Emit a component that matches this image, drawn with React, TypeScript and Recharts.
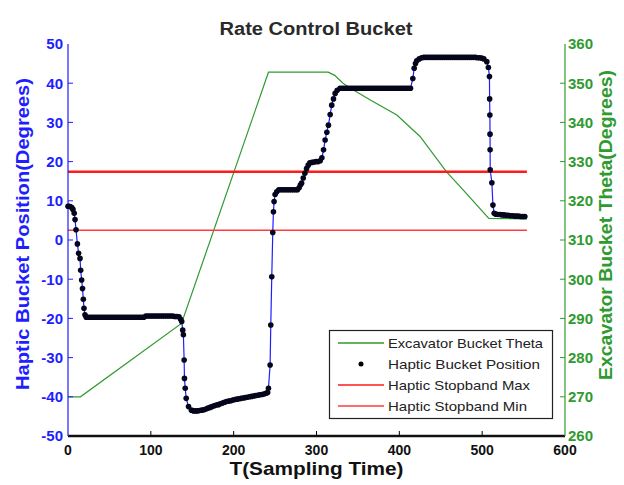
import React from 'react';
import { ComposedChart, Line, XAxis, YAxis } from 'recharts';

const FONT = '"Liberation Sans", Arial, sans-serif';

const timeTicks = [0, 100, 200, 300, 400, 500, 600];
const hapticTicks = [-50, -40, -30, -20, -10, 0, 10, 20, 30, 40, 50];
const thetaTicks = [260, 270, 280, 290, 300, 310, 320, 330, 340, 350, 360];

const titleText = 'Rate Control Bucket';
const xLabelText = 'T(Sampling Time)';
const leftLabelText = 'Haptic Bucket Position(Degrees)';
const rightLabelText = 'Excavator Bucket Theta(Degrees)';
const legendNames = ['Excavator Bucket Theta', 'Haptic Bucket Position', 'Haptic Stopband Max', 'Haptic Stopband Min'];

// Excavator bucket theta (right axis, degrees)
const thetaTime = [0, 15, 137, 242, 314, 322, 332, 341, 365, 397, 425, 457, 477, 508, 554];
const thetaDeg = [270, 270, 288.7, 352.8, 352.8, 352, 350, 348.7, 345.7, 341.9, 336.4, 327.4, 322.8, 315.5, 315.4];

// Stopband lines (left axis)
const stopbandTime = [0, 554];
const stopbandMax = [17.4, 17.4];
const stopbandMin = [2.5, 2.5];

// Haptic bucket position (left axis)
const hapticTime = [
  0, 1.5, 3, 4.5, 6,
  7.5, 8.5, 9.7, 11.3, 12.8, 14.5, 15.3, 16.5, 17.5, 18.5, 19.3, 20.5, 22,
  24, 26.5, 29, 31.5, 34, 36.5, 39, 41.5, 44, 46.5, 49, 51.5, 54, 56.5, 59, 61.5, 64, 66.5, 69, 71.5, 74, 76.5, 79, 81.5, 84, 86.5, 89, 91.5,
  94, 96.5, 99, 101.5, 104, 106.5, 109, 111.5, 114, 116.5, 119, 121.5, 124, 126.5, 129, 131.5,
  134, 136,
  137.3, 138.5, 139.3, 140.2, 140.6, 141.5, 142.7, 145.5, 149,
  151.5, 154, 156.5, 159, 161.5, 164, 166.5, 169, 171.5, 174, 176.5, 179, 181.5, 184, 186.5, 189, 191.5, 194, 196.5, 199, 201.5, 204, 206.5, 209, 211.5, 214, 216.5, 219, 221.5, 224, 226.5, 229, 231.5, 234, 236.5, 239,
  241, 242, 244, 244.8, 246, 247.2, 248, 248.8, 250, 252,
  254.5, 257, 259.5, 262, 264.5, 267, 269.5, 272, 274.5, 277,
  279, 280.5, 282, 284, 286, 288, 290, 292,
  294.5, 297, 299.5, 302, 304.5,
  306.5, 308.5, 310.4, 312.5, 314.4, 316.5, 318.4, 320.5, 322.5, 325, 328.5,
  331, 333.5, 336, 338.5, 341, 343.5, 346, 348.5, 351, 353.5, 356, 358.5, 361, 363.5, 366, 368.5, 371, 373.5, 376, 378.5, 381, 383.5, 386, 388.5, 391, 393.5, 396, 398.5, 401, 403.5, 406, 408.5, 411, 413.5,
  416.3, 417.9, 419.5, 421, 424, 427, 429.5,
  432, 434.5, 437, 439.5, 442, 444.5, 447, 449.5, 452, 454.5, 457, 459.5, 462, 464.5, 467, 469.5, 472, 474.5, 477, 479.5, 482, 484.5, 487, 489.5, 492, 494.5, 497, 499.5,
  502, 505.6, 507.5, 508.8, 509, 509.3, 509.5, 509.6, 509.7, 511.7, 513, 514.5, 516.5,
  519, 521.5, 524, 526.5, 529, 531.5, 534, 536.5, 539, 541.5, 544, 546.5, 549, 551.5,
];
const hapticDeg = [
  8.6, 8.6, 8.5, 8.3, 7.8,
  6.8, 5.2, 2.6, -1, -3.4, -4.7, -7.7, -10.2, -12.4, -15.1, -17.4, -19.1, -19.7,
  -19.7, -19.7, -19.7, -19.7, -19.7, -19.7, -19.7, -19.7, -19.7, -19.7, -19.7, -19.7, -19.7, -19.7, -19.7, -19.7, -19.7, -19.7, -19.7, -19.7, -19.7, -19.7, -19.7, -19.7, -19.7, -19.7, -19.7, -19.7,
  -19.4, -19.4, -19.4, -19.4, -19.4, -19.4, -19.4, -19.4, -19.4, -19.4, -19.4, -19.4, -19.4, -19.4, -19.5, -19.5,
  -19.6, -20.2,
  -20.8, -23, -24.2, -30.6, -35.3, -37.8, -40.4, -42.5, -43.4,
  -43.6, -43.6, -43.6, -43.5, -43.4, -43.3, -43.1, -42.9, -42.7, -42.5, -42.3, -42.1, -42.0, -41.8, -41.6, -41.4, -41.2, -41.1, -41.0, -40.8, -40.7, -40.6, -40.5, -40.4, -40.3, -40.2, -40.1, -40.0, -39.9, -39.8, -39.7, -39.6, -39.5, -39.4, -39.3, -39.1,
  -38.9, -37.8, -31.9, -21.7, -9.4, 1.9, 7.2, 9.8, 11.6, 12.3,
  12.8, 12.8, 12.8, 12.8, 12.8, 12.8, 12.8, 12.8, 12.8, 12.8,
  13.3, 14, 14.5, 15.8, 17, 18.2, 19.1, 19.7,
  19.8, 19.9, 20, 20, 20.2,
  21, 23, 25.5, 27.5, 29.3, 32, 34.4, 36, 37.4, 38.2, 38.7,
  38.7, 38.7, 38.7, 38.7, 38.7, 38.7, 38.7, 38.7, 38.7, 38.7, 38.7, 38.7, 38.7, 38.7, 38.7, 38.7, 38.7, 38.7, 38.7, 38.7, 38.7, 38.7, 38.7, 38.7, 38.7, 38.7, 38.7, 38.7, 38.7, 38.7, 38.7, 38.7, 38.7, 38.7,
  41.2, 43.8, 45, 45.7, 46.2, 46.5, 46.6,
  46.6, 46.6, 46.6, 46.6, 46.6, 46.6, 46.6, 46.6, 46.6, 46.6, 46.6, 46.6, 46.6, 46.6, 46.6, 46.6, 46.6, 46.6, 46.6, 46.6, 46.6, 46.6, 46.6, 46.6, 46.6, 46.5, 46.5, 46.4,
  46.2, 45.5, 44, 41.7, 36, 31.9, 27, 23, 17.9, 14.6, 8.9, 6.8, 6.6,
  6.5, 6.5, 6.4, 6.4, 6.3, 6.3, 6.2, 6.2, 6.1, 6.1, 6.1, 6.0, 6.0, 6.0,
];

const zip = (ts: number[], vs: number[]) => {
  const n = Math.min(ts.length, vs.length);
  const out: { t: number; v: number }[] = [];
  for (let i = 0; i < n; i++) out.push({ t: ts[i], v: vs[i] });
  return out;
};

const thetaData = zip(thetaTime, thetaDeg);
const maxData = zip(stopbandTime, stopbandMax);
const minData = zip(stopbandTime, stopbandMin);
const hapticData = zip(hapticTime, hapticDeg);

const BLUE = '#1e1eff';
const GREEN = '#2f9a2f';
const RED = '#ff1a1a';

const BottomTick = (props: any) => {
  const { x, y, payload } = props;
  const v = payload.value;
  const inner = v !== timeTicks[0] && v !== timeTicks[timeTicks.length - 1];
  return (
    <g>
      {inner && <line x1={x} y1={y} x2={x} y2={y - 5} stroke="#000" strokeWidth={1} />}
      <text x={x} y={y + 19} textAnchor="middle" fontFamily={FONT} fontWeight="bold" fontSize={14} fill="#111">
        {v}
      </text>
    </g>
  );
};

const TopTick = (props: any) => {
  const { x, y, payload } = props;
  const v = payload.value;
  const inner = v !== timeTicks[0] && v !== timeTicks[timeTicks.length - 1];
  return inner ? <line x1={x} y1={y} x2={x} y2={y + 5} stroke="#000" strokeWidth={1} /> : <g />;
};

const LeftTick = (props: any) => {
  const { x, y, payload } = props;
  const v = payload.value;
  const inner = v !== hapticTicks[0] && v !== hapticTicks[hapticTicks.length - 1];
  return (
    <g>
      {inner && <line x1={x} y1={y} x2={x + 5} y2={y} stroke={BLUE} strokeWidth={1} />}
      <text x={x - 5} y={y} dy="0.36em" textAnchor="end" fontFamily={FONT} fontWeight="bold" fontSize={15} fill={BLUE}>
        {v}
      </text>
    </g>
  );
};

const RightTick = (props: any) => {
  const { x, y, payload } = props;
  const v = payload.value;
  const inner = v !== thetaTicks[0] && v !== thetaTicks[thetaTicks.length - 1];
  return (
    <g>
      {inner && <line x1={x} y1={y} x2={x - 5} y2={y} stroke={GREEN} strokeWidth={1} />}
      <text x={x + 3} y={y} dy="0.36em" textAnchor="start" fontFamily={FONT} fontWeight="bold" fontSize={15} fill={GREEN}>
        {v}
      </text>
    </g>
  );
};

const BottomLabel = (props: any) => {
  const vb = props.viewBox || { x: 68, y: 436, width: 497, height: 49 };
  const cx = vb.x + vb.width / 2;
  return (
    <text x={cx} y={vb.y + 39} textAnchor="middle" fontFamily={FONT} fontWeight="bold" fontSize={19} fill="#111"
      textLength={174} lengthAdjust="spacingAndGlyphs">
      {xLabelText}
    </text>
  );
};

const LeftLabel = (props: any) => {
  const vb = props.viewBox || { x: 0, y: 44, width: 68, height: 392 };
  const cx = vb.x + 23;
  const cy = vb.y + vb.height / 2 - 6;
  return (
    <text x={cx} y={cy} dy="0.36em" transform={`rotate(-90 ${cx} ${cy})`} textAnchor="middle" fontFamily={FONT}
      fontWeight="bold" fontSize={18} fill={BLUE} textLength={312} lengthAdjust="spacingAndGlyphs">
      {leftLabelText}
    </text>
  );
};

const RightLabel = (props: any) => {
  const vb = props.viewBox || { x: 565, y: 44, width: 59, height: 392 };
  const cx = vb.x + 41;
  const cy = vb.y + vb.height / 2 - 15;
  return (
    <text x={cx} y={cy} dy="0.36em" transform={`rotate(-90 ${cx} ${cy})`} textAnchor="middle" fontFamily={FONT}
      fontWeight="bold" fontSize={18} fill={GREEN} textLength={310} lengthAdjust="spacingAndGlyphs">
      {rightLabelText}
    </text>
  );
};

const legendWidths = [155, 152, 142, 139];
const legendRows = [343, 364, 385, 406];

const Overlay = () => (
  <svg width={624} height={485} style={{ position: 'absolute', left: 0, top: 0, pointerEvents: 'none' }}>
    <text x={316} y={35} textAnchor="middle" fontFamily={FONT} fontWeight="bold" fontSize={18} fill="#2a2a2a"
      textLength={193} lengthAdjust="spacingAndGlyphs">
      {titleText}
    </text>
    <rect x={329.5} y={330.5} width={223} height={88} fill="#fff" stroke="#222" strokeWidth={1.2} />
    <line x1={338} y1={legendRows[0]} x2={384} y2={legendRows[0]} stroke={GREEN} strokeWidth={1.5} />
    <circle cx={361} cy={legendRows[1]} r={2.5} fill="#000" />
    <line x1={338} y1={legendRows[2]} x2={384} y2={legendRows[2]} stroke={RED} strokeWidth={1.5} />
    <line x1={338} y1={legendRows[3]} x2={384} y2={legendRows[3]} stroke="#ff3b3b" strokeWidth={1.5} />
    {legendNames.map((n, i) => (
      <text key={n} x={388} y={legendRows[i]} dy="0.36em" fontFamily={FONT} fontSize={13} fill="#222"
        textLength={legendWidths[i]} lengthAdjust="spacingAndGlyphs">
        {n}
      </text>
    ))}
  </svg>
);

export default function App() {
  return (
    <div style={{ position: 'absolute', left: 0, top: 0, width: 624, height: 485, background: '#fff' }}>
      <ComposedChart width={624} height={485} margin={{ top: 44, right: 0, bottom: 0, left: 0 }}>
        <XAxis xAxisId="b" type="number" dataKey="t" domain={[0, 600]} ticks={timeTicks} height={49}
          axisLine={{ stroke: '#111', strokeWidth: 2.5 }} tickLine={false} tickSize={0} tickMargin={0}
          tick={(p: any) => <BottomTick {...p} />} label={<BottomLabel />} interval={0} />
        <XAxis xAxisId="top" orientation="top" type="number" dataKey="t" domain={[0, 600]} ticks={timeTicks} height={0}
          axisLine={{ stroke: '#111', strokeWidth: 1 }} tickLine={false} tickSize={0} tickMargin={0}
          tick={(p: any) => <TopTick {...p} />} interval={0} />
        <YAxis yAxisId="l" type="number" domain={[-50, 50]} ticks={hapticTicks} width={68}
          axisLine={{ stroke: BLUE, strokeWidth: 1.2 }} tickLine={false} tickSize={0} tickMargin={0}
          tick={(p: any) => <LeftTick {...p} />} label={<LeftLabel />} interval={0} />
        <YAxis yAxisId="r" orientation="right" type="number" domain={[260, 360]} ticks={thetaTicks} width={59}
          axisLine={{ stroke: GREEN, strokeWidth: 1.2 }} tickLine={false} tickSize={0} tickMargin={0}
          tick={(p: any) => <RightTick {...p} />} label={<RightLabel />} interval={0} />
        <Line xAxisId="b" yAxisId="r" data={thetaData} dataKey="v" type="linear" stroke={GREEN} strokeWidth={1.2}
          dot={false} isAnimationActive={false} />
        <Line xAxisId="b" yAxisId="l" data={maxData} dataKey="v" type="linear" stroke={RED} strokeWidth={2.5}
          dot={false} isAnimationActive={false} />
        <Line xAxisId="b" yAxisId="l" data={minData} dataKey="v" type="linear" stroke="#ff3b3b" strokeWidth={1.6}
          dot={false} isAnimationActive={false} />
        <Line xAxisId="b" yAxisId="l" data={hapticData} dataKey="v" type="linear" stroke={BLUE} strokeWidth={1.2}
          dot={{ r: 2.8, fill: '#05051c', stroke: 'none', strokeWidth: 0 }} isAnimationActive={false} />
      </ComposedChart>
      <Overlay />
    </div>
  );
}
